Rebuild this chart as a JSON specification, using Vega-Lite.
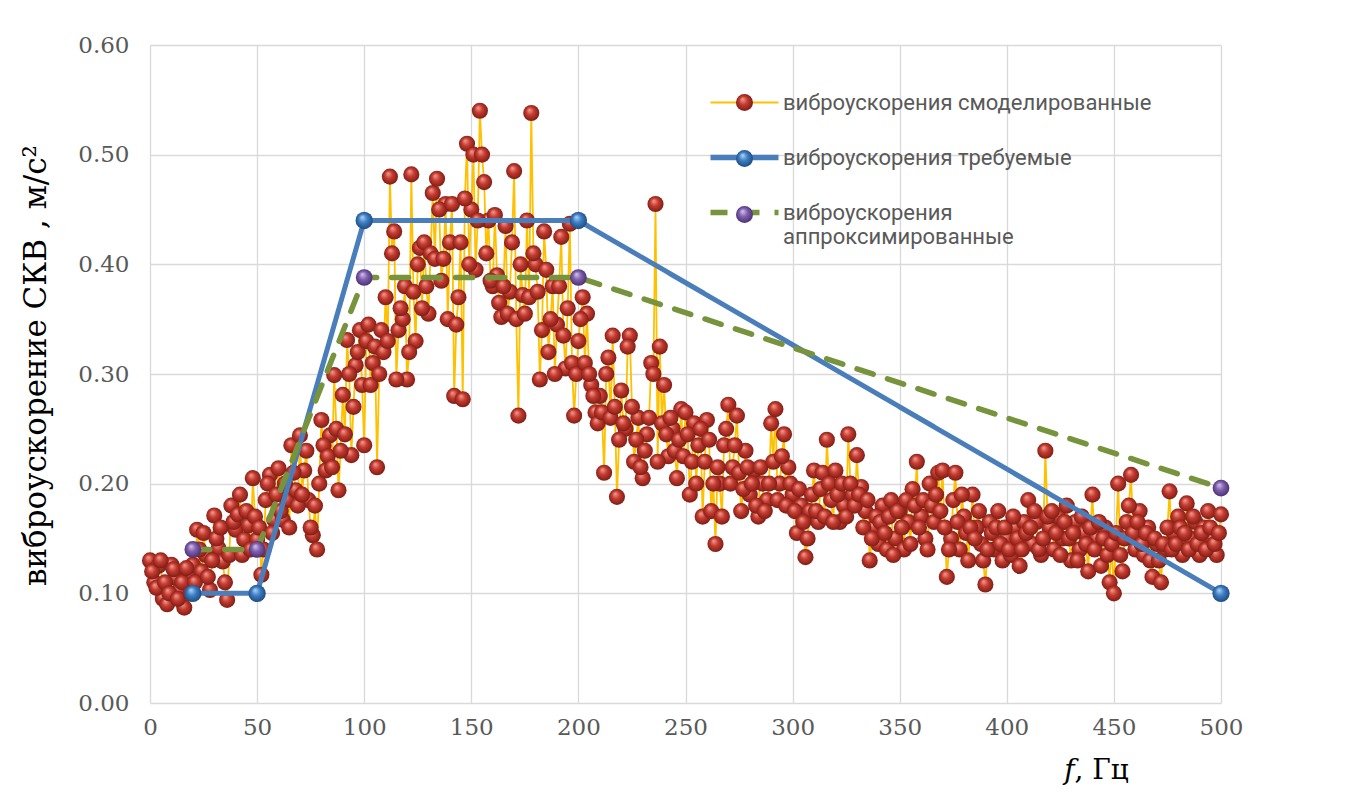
{
 "$schema": "https://vega.github.io/schema/vega-lite/v6.json",
 "width": 1071, "height": 658,
 "autosize": {"type": "none"},
 "padding": {"left": 150, "top": 45, "right": 141, "bottom": 102},
 "background": "white",
 "datasets": {
  "sim": [
   {"f":0,"v":0.13},{"f":2,"v":0.11},{"f":4,"v":0.125},{"f":6,"v":0.095},{"f":8,"v":0.09},
   {"f":10,"v":0.126},{"f":12,"v":0.114},{"f":14,"v":0.103},{"f":16,"v":0.087},{"f":18,"v":0.117},
   {"f":20,"v":0.126},{"f":22,"v":0.158},{"f":24,"v":0.12},{"f":26,"v":0.135},{"f":28,"v":0.103},
   {"f":30,"v":0.171},{"f":32,"v":0.141},{"f":34,"v":0.129},{"f":36,"v":0.094},{"f":38,"v":0.18},
   {"f":40,"v":0.158},{"f":42,"v":0.19},{"f":44,"v":0.149},{"f":46,"v":0.162},{"f":48,"v":0.205},
   {"f":50,"v":0.149},{"f":52,"v":0.117},{"f":54,"v":0.185},{"f":56,"v":0.208},{"f":58,"v":0.167},
   {"f":60,"v":0.214},{"f":62,"v":0.167},{"f":64,"v":0.185},{"f":66,"v":0.235},{"f":68,"v":0.194},
   {"f":70,"v":0.244},{"f":72,"v":0.212},{"f":74,"v":0.185},{"f":76,"v":0.153},{"f":78,"v":0.14},
   {"f":80,"v":0.258},{"f":82,"v":0.212},{"f":84,"v":0.244},{"f":86,"v":0.299},{"f":88,"v":0.194},
   {"f":90,"v":0.281},{"f":92,"v":0.331},{"f":94,"v":0.226},{"f":96,"v":0.308},{"f":98,"v":0.34},
   {"f":100,"v":0.235},{"f":102,"v":0.345},{"f":104,"v":0.31},{"f":106,"v":0.215},{"f":108,"v":0.34},
   {"f":110,"v":0.37},{"f":112,"v":0.48},{"f":114,"v":0.43},{"f":116,"v":0.34},{"f":118,"v":0.35},
   {"f":120,"v":0.295},{"f":122,"v":0.482},{"f":124,"v":0.33},{"f":126,"v":0.415},{"f":128,"v":0.42},
   {"f":130,"v":0.355},{"f":132,"v":0.465},{"f":134,"v":0.478},{"f":136,"v":0.385},{"f":138,"v":0.455},
   {"f":140,"v":0.42},{"f":142,"v":0.28},{"f":144,"v":0.37},{"f":146,"v":0.277},{"f":148,"v":0.51},
   {"f":150,"v":0.45},{"f":152,"v":0.395},{"f":154,"v":0.54},{"f":156,"v":0.475},{"f":158,"v":0.44},
   {"f":160,"v":0.38},{"f":162,"v":0.39},{"f":164,"v":0.352},{"f":166,"v":0.435},{"f":168,"v":0.375},
   {"f":170,"v":0.485},{"f":172,"v":0.262},{"f":174,"v":0.372},{"f":176,"v":0.44},{"f":178,"v":0.538},
   {"f":180,"v":0.4},{"f":182,"v":0.295},{"f":184,"v":0.43},{"f":186,"v":0.32},{"f":188,"v":0.38},
   {"f":190,"v":0.345},{"f":192,"v":0.425},{"f":194,"v":0.305},{"f":196,"v":0.437},{"f":198,"v":0.262},
   {"f":200,"v":0.33},{"f":202,"v":0.37},{"f":204,"v":0.355},{"f":206,"v":0.29},{"f":208,"v":0.265},
   {"f":210,"v":0.28},{"f":212,"v":0.21},{"f":214,"v":0.315},{"f":216,"v":0.335},{"f":218,"v":0.188},
   {"f":220,"v":0.285},{"f":222,"v":0.25},{"f":224,"v":0.335},{"f":226,"v":0.22},{"f":228,"v":0.26},
   {"f":230,"v":0.205},{"f":232,"v":0.245},{"f":234,"v":0.31},{"f":236,"v":0.455},{"f":238,"v":0.325},
   {"f":240,"v":0.29},{"f":242,"v":0.225},{"f":244,"v":0.25},{"f":246,"v":0.205},{"f":248,"v":0.268},
   {"f":250,"v":0.265},{"f":252,"v":0.19},{"f":254,"v":0.255},{"f":256,"v":0.235},{"f":258,"v":0.17},
   {"f":260,"v":0.258},{"f":262,"v":0.175},{"f":264,"v":0.145},{"f":266,"v":0.2},{"f":268,"v":0.235},
   {"f":270,"v":0.272},{"f":272,"v":0.215},{"f":274,"v":0.262},{"f":276,"v":0.175},{"f":278,"v":0.23},
   {"f":280,"v":0.19},{"f":282,"v":0.212},{"f":284,"v":0.17},{"f":286,"v":0.2},{"f":288,"v":0.185},
   {"f":290,"v":0.255},{"f":292,"v":0.268},{"f":294,"v":0.2},{"f":296,"v":0.245},{"f":298,"v":0.215},
   {"f":300,"v":0.19},{"f":302,"v":0.155},{"f":304,"v":0.18},{"f":306,"v":0.133},{"f":308,"v":0.175},
   {"f":310,"v":0.212},{"f":312,"v":0.165},{"f":314,"v":0.21},{"f":316,"v":0.24},{"f":318,"v":0.185},
   {"f":320,"v":0.212},{"f":322,"v":0.165},{"f":324,"v":0.18},{"f":326,"v":0.245},{"f":328,"v":0.19},
   {"f":330,"v":0.226},{"f":332,"v":0.197},{"f":334,"v":0.175},{"f":336,"v":0.13},{"f":338,"v":0.16},
   {"f":340,"v":0.145},{"f":342,"v":0.18},{"f":344,"v":0.14},{"f":346,"v":0.185},{"f":348,"v":0.15},
   {"f":350,"v":0.175},{"f":352,"v":0.14},{"f":354,"v":0.165},{"f":356,"v":0.195},{"f":358,"v":0.22},
   {"f":360,"v":0.17},{"f":362,"v":0.15},{"f":364,"v":0.2},{"f":366,"v":0.165},{"f":368,"v":0.21},
   {"f":370,"v":0.212},{"f":372,"v":0.115},{"f":374,"v":0.15},{"f":376,"v":0.21},{"f":378,"v":0.14},
   {"f":380,"v":0.17},{"f":382,"v":0.13},{"f":384,"v":0.19},{"f":386,"v":0.16},{"f":388,"v":0.145},
   {"f":390,"v":0.108},{"f":392,"v":0.165},{"f":394,"v":0.14},{"f":396,"v":0.175},{"f":398,"v":0.13},
   {"f":400,"v":0.15},{"f":402,"v":0.135},{"f":404,"v":0.16},{"f":406,"v":0.125},{"f":408,"v":0.165},
   {"f":410,"v":0.185},{"f":412,"v":0.145},{"f":414,"v":0.165},{"f":416,"v":0.135},{"f":418,"v":0.23},
   {"f":420,"v":0.16},{"f":422,"v":0.14},{"f":424,"v":0.17},{"f":426,"v":0.15},{"f":428,"v":0.18},
   {"f":430,"v":0.13},{"f":432,"v":0.165},{"f":434,"v":0.14},{"f":436,"v":0.155},{"f":438,"v":0.12},
   {"f":440,"v":0.19},{"f":442,"v":0.15},{"f":444,"v":0.125},{"f":446,"v":0.16},{"f":448,"v":0.11},
   {"f":450,"v":0.1},{"f":452,"v":0.2},{"f":454,"v":0.12},{"f":456,"v":0.165},{"f":458,"v":0.208},
   {"f":460,"v":0.14},{"f":462,"v":0.175},{"f":464,"v":0.135},{"f":466,"v":0.16},{"f":468,"v":0.115},
   {"f":470,"v":0.145},{"f":472,"v":0.11},{"f":474,"v":0.14},{"f":476,"v":0.193},{"f":478,"v":0.155},
   {"f":480,"v":0.17},{"f":482,"v":0.135},{"f":484,"v":0.182},{"f":486,"v":0.15},{"f":488,"v":0.165},
   {"f":490,"v":0.135},{"f":492,"v":0.16},{"f":494,"v":0.175},{"f":496,"v":0.15},{"f":498,"v":0.135},{"f":500,"v":0.172},
   {"f":1,"v":0.12},{"f":3,"v":0.105},{"f":5,"v":0.13},{"f":7,"v":0.11},{"f":9,"v":0.1},
   {"f":11,"v":0.122},{"f":13,"v":0.095},{"f":15,"v":0.11},{"f":17,"v":0.123},{"f":19,"v":0.1},
   {"f":21,"v":0.11},{"f":23,"v":0.14},{"f":25,"v":0.155},{"f":27,"v":0.115},{"f":29,"v":0.13},
   {"f":31,"v":0.15},{"f":33,"v":0.16},{"f":35,"v":0.11},{"f":37,"v":0.135},{"f":39,"v":0.165},
   {"f":41,"v":0.172},{"f":43,"v":0.135},{"f":45,"v":0.175},{"f":47,"v":0.14},{"f":49,"v":0.17},
   {"f":51,"v":0.16},{"f":53,"v":0.14},{"f":55,"v":0.2},{"f":57,"v":0.155},{"f":59,"v":0.19},
   {"f":61,"v":0.175},{"f":63,"v":0.2},{"f":65,"v":0.16},{"f":67,"v":0.21},{"f":69,"v":0.18},
   {"f":71,"v":0.19},{"f":73,"v":0.23},{"f":75,"v":0.16},{"f":77,"v":0.18},{"f":79,"v":0.2},
   {"f":81,"v":0.235},{"f":83,"v":0.225},{"f":85,"v":0.215},{"f":87,"v":0.25},{"f":89,"v":0.23},
   {"f":91,"v":0.245},{"f":93,"v":0.3},{"f":95,"v":0.27},{"f":97,"v":0.32},{"f":99,"v":0.29},
   {"f":101,"v":0.33},{"f":103,"v":0.29},{"f":105,"v":0.325},{"f":107,"v":0.3},{"f":109,"v":0.32},
   {"f":111,"v":0.33},{"f":113,"v":0.41},{"f":115,"v":0.295},{"f":117,"v":0.36},{"f":119,"v":0.38},
   {"f":121,"v":0.32},{"f":123,"v":0.375},{"f":125,"v":0.4},{"f":127,"v":0.36},{"f":129,"v":0.38},
   {"f":131,"v":0.41},{"f":133,"v":0.405},{"f":135,"v":0.45},{"f":137,"v":0.405},{"f":139,"v":0.35},
   {"f":141,"v":0.455},{"f":143,"v":0.345},{"f":145,"v":0.42},{"f":147,"v":0.46},{"f":149,"v":0.4},
   {"f":151,"v":0.5},{"f":153,"v":0.44},{"f":155,"v":0.5},{"f":157,"v":0.41},{"f":159,"v":0.385},
   {"f":161,"v":0.445},{"f":163,"v":0.365},{"f":165,"v":0.38},{"f":167,"v":0.355},{"f":169,"v":0.42},
   {"f":171,"v":0.35},{"f":173,"v":0.4},{"f":175,"v":0.355},{"f":177,"v":0.37},{"f":179,"v":0.41},
   {"f":181,"v":0.375},{"f":183,"v":0.34},{"f":185,"v":0.395},{"f":187,"v":0.35},{"f":189,"v":0.3},
   {"f":191,"v":0.38},{"f":193,"v":0.335},{"f":195,"v":0.36},{"f":197,"v":0.31},{"f":199,"v":0.3},
   {"f":201,"v":0.35},{"f":203,"v":0.31},{"f":205,"v":0.3},{"f":207,"v":0.28},{"f":209,"v":0.255},
   {"f":211,"v":0.265},{"f":213,"v":0.3},{"f":215,"v":0.26},{"f":217,"v":0.27},{"f":219,"v":0.24},
   {"f":221,"v":0.255},{"f":223,"v":0.325},{"f":225,"v":0.27},{"f":227,"v":0.24},{"f":229,"v":0.215},
   {"f":231,"v":0.23},{"f":233,"v":0.26},{"f":235,"v":0.3},{"f":237,"v":0.22},{"f":239,"v":0.255},
   {"f":241,"v":0.245},{"f":243,"v":0.26},{"f":245,"v":0.23},{"f":247,"v":0.24},{"f":249,"v":0.225},
   {"f":251,"v":0.245},{"f":253,"v":0.22},{"f":255,"v":0.2},{"f":257,"v":0.25},{"f":259,"v":0.22},
   {"f":261,"v":0.24},{"f":263,"v":0.2},{"f":265,"v":0.215},{"f":267,"v":0.17},{"f":269,"v":0.25},
   {"f":271,"v":0.2},{"f":273,"v":0.235},{"f":275,"v":0.21},{"f":277,"v":0.195},{"f":279,"v":0.215},
   {"f":281,"v":0.2},{"f":283,"v":0.18},{"f":285,"v":0.215},{"f":287,"v":0.175},{"f":289,"v":0.2},
   {"f":291,"v":0.22},{"f":293,"v":0.185},{"f":295,"v":0.225},{"f":297,"v":0.18},{"f":299,"v":0.2},
   {"f":301,"v":0.175},{"f":303,"v":0.195},{"f":305,"v":0.165},{"f":307,"v":0.15},{"f":309,"v":0.19},
   {"f":311,"v":0.175},{"f":313,"v":0.195},{"f":315,"v":0.17},{"f":317,"v":0.2},{"f":319,"v":0.165},
   {"f":321,"v":0.19},{"f":323,"v":0.2},{"f":325,"v":0.17},{"f":327,"v":0.2},{"f":329,"v":0.18},
   {"f":331,"v":0.19},{"f":333,"v":0.16},{"f":335,"v":0.185},{"f":337,"v":0.15},{"f":339,"v":0.17},
   {"f":341,"v":0.165},{"f":343,"v":0.155},{"f":345,"v":0.17},{"f":347,"v":0.135},{"f":349,"v":0.175},
   {"f":351,"v":0.16},{"f":353,"v":0.185},{"f":355,"v":0.145},{"f":357,"v":0.18},{"f":359,"v":0.16},
   {"f":361,"v":0.185},{"f":363,"v":0.14},{"f":365,"v":0.18},{"f":367,"v":0.19},{"f":369,"v":0.175},
   {"f":371,"v":0.16},{"f":373,"v":0.14},{"f":375,"v":0.185},{"f":377,"v":0.165},{"f":379,"v":0.19},
   {"f":381,"v":0.155},{"f":383,"v":0.16},{"f":385,"v":0.15},{"f":387,"v":0.175},{"f":389,"v":0.13},
   {"f":391,"v":0.14},{"f":393,"v":0.155},{"f":395,"v":0.16},{"f":397,"v":0.145},{"f":399,"v":0.16},
   {"f":401,"v":0.14},{"f":403,"v":0.17},{"f":405,"v":0.15},{"f":407,"v":0.14},{"f":409,"v":0.155},
   {"f":411,"v":0.16},{"f":413,"v":0.175},{"f":415,"v":0.14},{"f":417,"v":0.15},{"f":419,"v":0.17},
   {"f":421,"v":0.175},{"f":423,"v":0.155},{"f":425,"v":0.135},{"f":427,"v":0.165},{"f":429,"v":0.15},
   {"f":431,"v":0.155},{"f":433,"v":0.13},{"f":435,"v":0.17},{"f":437,"v":0.145},{"f":439,"v":0.16},
   {"f":441,"v":0.14},{"f":443,"v":0.165},{"f":445,"v":0.15},{"f":447,"v":0.135},{"f":449,"v":0.145},
   {"f":451,"v":0.155},{"f":453,"v":0.135},{"f":455,"v":0.15},{"f":457,"v":0.18},{"f":459,"v":0.155},
   {"f":461,"v":0.165},{"f":463,"v":0.145},{"f":465,"v":0.155},{"f":467,"v":0.13},{"f":469,"v":0.15},
   {"f":471,"v":0.13},{"f":473,"v":0.145},{"f":475,"v":0.16},{"f":477,"v":0.14},{"f":479,"v":0.145},
   {"f":481,"v":0.16},{"f":483,"v":0.155},{"f":485,"v":0.14},{"f":487,"v":0.17},{"f":489,"v":0.145},
   {"f":491,"v":0.155},{"f":493,"v":0.14},{"f":495,"v":0.16},{"f":497,"v":0.145},{"f":499,"v":0.155}
  ],
  "req": [{"f":20,"v":0.1},{"f":50,"v":0.1},{"f":100,"v":0.44},{"f":200,"v":0.44},{"f":500,"v":0.1}],
  "appr": [{"f":20,"v":0.14},{"f":50,"v":0.14},{"f":100,"v":0.388},{"f":200,"v":0.388},{"f":500,"v":0.196}]
 },
 "config": {
  "view": {"stroke": null},
  "axis": {
   "gridColor": "#d9d9d9", "gridWidth": 1.3, "domain": false, "ticks": false, "labelFlush": false,
   "labelFont": "DejaVu Serif", "labelFontSize": 23, "labelColor": "#595959",
   "titleFont": "DejaVu Serif", "titleFontSize": 28, "titleFontWeight": "normal", "titleColor": "#000000"
  }
 },
 "resolve": {"scale": {"shape": "independent"}, "legend": {"shape": "independent"}},
 "encoding": {
  "x": {"field": "f", "type": "quantitative", "scale": {"domain": [0, 500], "nice": false},
   "axis": {"values": [0,50,100,150,200,250,300,350,400,450,500], "labelPadding": 13,
    "title": "𝑓, Гц", "titleX": 946, "titleY": 75, "titleBaseline": "alphabetic", "titleAlign": "center", "titleAnchor": null}},
  "y": {"field": "v", "type": "quantitative", "scale": {"domain": [0, 0.6], "nice": false},
   "axis": {"values": [0,0.1,0.2,0.3,0.4,0.5,0.6], "format": ".2f", "labelPadding": 21,
    "title": "виброускорение СКВ , м/с²", "titleX": -114, "titleY": 320, "titleAngle": -90, "titleAlign": "center", "titleBaseline": "middle", "titleAnchor": null, "titleFontSize": 31}}
 },
 "layer": [
  {"data": {"name": "sim"}, "mark": {"type": "line", "strokeWidth": 1.8},
   "encoding": {
    "color": {"datum": "виброускорения смоделированные", "type": "nominal",
     "scale": {"domain": ["виброускорения смоделированные","виброускорения требуемые","виброускорения аппроксимированные"], "range": ["#FFC000","#4A7EBB","#77933C"]},
     "legend": {"orient": "none", "legendX": 583.5, "legendY": 46.5, "title": null, "symbolType": "M-4,0H4", "symbolSize": 289, "symbolFillColor": "transparent",
      "labelFont": "Roboto", "labelFontSize": 22, "labelColor": "#595959", "labelOffset": 27.5, "rowPadding": 33, "labelLimit": 600, "padding": 0,
      "labelExpr": "datum.label == 'виброускорения аппроксимированные' ? ['виброускорения', 'аппроксимированные'] : datum.label",
      "encode": {"symbols": {"update": {"strokeWidth": {"signal": "datum.index == 0 ? 1.8 : 5.5"}}}}}},
    "strokeDash": {"datum": "виброускорения смоделированные", "type": "nominal",
     "scale": {"domain": ["виброускорения смоделированные","виброускорения требуемые","виброускорения аппроксимированные"], "range": [[1,0],[1,0],[17,15]]}}
   }},
  {"data": {"name": "sim"},
   "mark": {"type": "point", "filled": true, "size": 260, "opacity": 1, "strokeWidth": 0,
    "fill": {"gradient": "radial", "x1": 0.38, "y1": 0.3, "r1": 0, "x2": 0.5, "y2": 0.5, "r2": 0.55, "stops": [{"offset": 0, "color": "#f2a096"}, {"offset": 0.45, "color": "#c63a2f"}, {"offset": 1, "color": "#731a12"}]}},
   "encoding": {
    "shape": {"datum": "a", "type": "nominal", "scale": {"range": ["circle"]},
     "legend": {"orient": "none", "legendX": 583.5, "legendY": 46.5, "title": null, "symbolSize": 289, "symbolStrokeWidth": 0,
      "labelFontSize": 22, "labelOpacity": 0, "padding": 0}}
   }},
  {"data": {"name": "req"}, "mark": {"type": "line", "strokeWidth": 5},
   "encoding": {
    "color": {"datum": "виброускорения требуемые", "type": "nominal"},
    "strokeDash": {"datum": "виброускорения требуемые", "type": "nominal"}
   }},
  {"data": {"name": "req"},
   "mark": {"type": "point", "filled": true, "size": 300, "opacity": 1, "strokeWidth": 0,
    "fill": {"gradient": "radial", "x1": 0.38, "y1": 0.3, "r1": 0, "x2": 0.5, "y2": 0.5, "r2": 0.55, "stops": [{"offset": 0, "color": "#b5d6f5"}, {"offset": 0.45, "color": "#3d7fc6"}, {"offset": 1, "color": "#1b4576"}]}},
   "encoding": {
    "shape": {"datum": "b", "type": "nominal", "scale": {"range": ["circle"]},
     "legend": {"orient": "none", "legendX": 583.5, "legendY": 102.5, "title": null, "symbolSize": 289, "symbolStrokeWidth": 0,
      "labelFontSize": 22, "labelOpacity": 0, "padding": 0}}
   }},
  {"data": {"name": "appr"}, "mark": {"type": "line", "strokeWidth": 5.5, "strokeCap": "round"},
   "encoding": {
    "color": {"datum": "виброускорения аппроксимированные", "type": "nominal"},
    "strokeDash": {"datum": "виброускорения аппроксимированные", "type": "nominal"}
   }},
  {"data": {"name": "appr"},
   "mark": {"type": "point", "filled": true, "size": 280, "opacity": 1, "strokeWidth": 0,
    "fill": {"gradient": "radial", "x1": 0.38, "y1": 0.3, "r1": 0, "x2": 0.5, "y2": 0.5, "r2": 0.55, "stops": [{"offset": 0, "color": "#d8c4ee"}, {"offset": 0.45, "color": "#8060ae"}, {"offset": 1, "color": "#452a6a"}]}},
   "encoding": {
    "shape": {"datum": "c", "type": "nominal", "scale": {"range": ["circle"]},
     "legend": {"orient": "none", "legendX": 583.5, "legendY": 158.5, "title": null, "symbolSize": 289, "symbolStrokeWidth": 0,
      "labelFontSize": 22, "labelOpacity": 0, "padding": 0}}
   }}
 ]
}
